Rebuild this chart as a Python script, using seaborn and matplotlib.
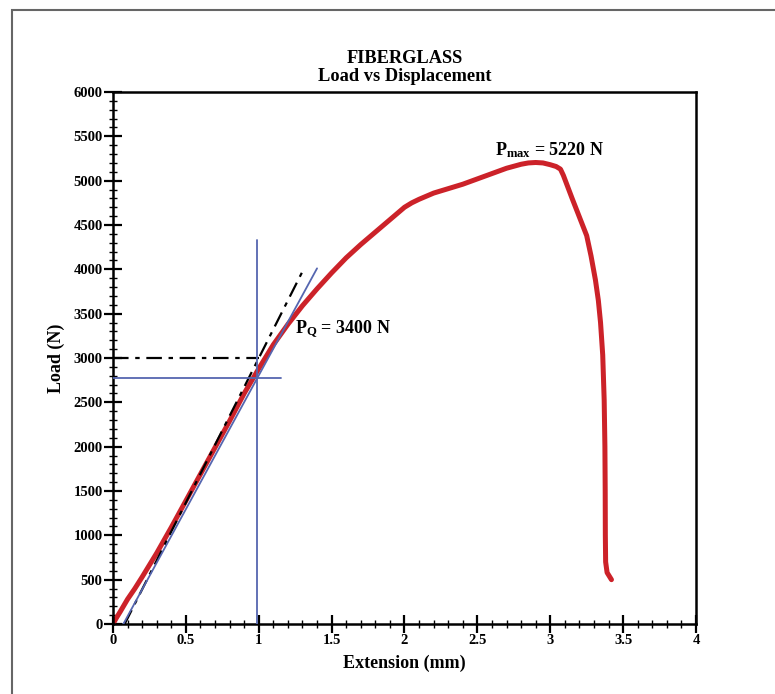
import matplotlib
matplotlib.use("Agg")
import matplotlib.pyplot as plt
import seaborn as sns
import pandas as pd
from matplotlib.patches import Rectangle
from matplotlib.ticker import MultipleLocator

# ---- data ----
extension_mm = [0.0, 0.02, 0.05, 0.10, 0.15, 0.20, 0.30, 0.40, 0.50, 0.60, 0.70,
                0.80, 0.90, 1.00, 1.10, 1.20, 1.30, 1.40, 1.50, 1.60, 1.70, 1.80,
                1.90, 1.95, 2.00, 2.05, 2.10, 2.20, 2.30, 2.40, 2.50, 2.60, 2.70,
                2.80, 2.85, 2.90, 2.95, 3.00, 3.04, 3.07, 3.09, 3.12, 3.15, 3.20,
                3.25, 3.28, 3.31, 3.33, 3.345, 3.36, 3.37, 3.375, 3.377, 3.378,
                3.38, 3.39, 3.42]
load_N = [0, 60, 140, 280, 400, 530, 800, 1090, 1390, 1690, 1990,
          2290, 2600, 2880, 3150, 3380, 3590, 3780, 3960, 4130, 4280, 4420,
          4560, 4630, 4700, 4750, 4790, 4860, 4910, 4960, 5020, 5080, 5140,
          5185, 5200, 5205, 5200, 5180, 5160, 5130, 5060, 4930, 4800, 4590,
          4380, 4150, 3880, 3650, 3400, 3034, 2526, 2000, 1500, 1000,
          700, 580, 500]

# blue 5% offset construction lines
slope_x = [0.071, 1.40]
slope_y = [0, 4011]
vert_x = [0.99, 0.99]
vert_y = [0, 4330]
horiz_x = [0, 1.15]
horiz_y = [2780, 2780]

# black dash-dot construction lines
dd_slope_x = [0.08, 1.305]
dd_slope_y = [0, 3992]
dd_horiz_x = [0, 1.0]
dd_horiz_y = [3000, 3000]

pmax_label = "5220 N"
pq_label = "3400 N"

x_ticks = [0, 0.5, 1, 1.5, 2, 2.5, 3, 3.5, 4]
x_ticklabels = ["0", "0.5", "1", "1.5", "2", "2.5", "3", "3.5", "4"]
y_ticks = list(range(0, 6001, 500))

# ---- styling ----
sns.set_theme(style="white")
plt.rcParams["font.family"] = ["Liberation Serif", "DejaVu Serif"]
plt.rcParams["font.weight"] = "bold"
plt.rcParams["text.color"] = "black"
plt.rcParams["axes.labelcolor"] = "black"
plt.rcParams["xtick.color"] = "black"
plt.rcParams["ytick.color"] = "black"
plt.rcParams["mathtext.fontset"] = "custom"
plt.rcParams["mathtext.rm"] = "Liberation Serif:bold"
plt.rcParams["mathtext.it"] = "Liberation Serif:bold"
plt.rcParams["mathtext.bf"] = "Liberation Serif:bold"

fig = plt.figure(figsize=(7.75, 6.94), dpi=100)
ax = fig.add_axes([113 / 775, 1 - 624 / 694, (696 - 113) / 775, (624 - 92) / 694])

# figure frame
fig.add_artist(Rectangle((12 / 775, -0.05), 1.2, 1 - 10 / 694 + 0.05,
                         transform=fig.transFigure, fill=False,
                         edgecolor="#666666", lw=1.5, zorder=0))

df = pd.DataFrame({"Extension": extension_mm, "Load": load_N})

ax.plot(dd_slope_x, dd_slope_y, color="black", lw=1.6, dashes=(7, 3, 2, 3), zorder=3)
ax.plot(dd_horiz_x, dd_horiz_y, color="black", lw=1.6, dashes=(7, 3, 2, 3), zorder=3)
sns.lineplot(data=df, x="Extension", y="Load", sort=False, estimator=None,
             color="#cc2229", lw=3.6, ax=ax, zorder=2)
for xs, ys in [(slope_x, slope_y), (vert_x, vert_y), (horiz_x, horiz_y)]:
    ax.plot(xs, ys, color="#5566b0", lw=1.3, zorder=4)

ax.set_xlim(0, 4)
ax.set_ylim(0, 6000)
ax.set_xticks(x_ticks)
ax.set_xticklabels(x_ticklabels)
ax.set_yticks(y_ticks)
ax.xaxis.set_minor_locator(MultipleLocator(0.1))
ax.yaxis.set_minor_locator(MultipleLocator(100))
ax.tick_params(which="major", direction="inout", length=13, width=1.6,
               labelsize=10.5, pad=1, colors="black")
ax.tick_params(which="minor", direction="inout", length=6, width=1.0, colors="black")
ax.tick_params(axis="both", which="both", bottom=True, left=True, top=False, right=False)
for lab in ax.get_xticklabels() + ax.get_yticklabels():
    lab.set_fontweight("bold")

for s in ax.spines.values():
    s.set_linewidth(1.8)
    s.set_color("black")

ax.set_xlabel("Extension (mm)", fontsize=13, fontweight="bold", labelpad=5)
ax.set_ylabel("Load (N)", fontsize=13, fontweight="bold", labelpad=6)
ax.set_title("FIBERGLASS\nLoad vs Displacement", fontsize=13.2, fontweight="heavy",
             pad=8, linespacing=1.1, color="black")

ax.text(1.249, 3282, r"P$_{\mathrm{Q}}$ = " + pq_label, fontsize=13,
        fontweight="heavy", va="baseline", ha="left", color="black")
ax.text(2.62, 5289, r"P$_{\mathrm{max}}$ = " + pmax_label, fontsize=13,
        fontweight="heavy", va="baseline", ha="left", color="black")

fig.savefig("out.png", dpi=100)
